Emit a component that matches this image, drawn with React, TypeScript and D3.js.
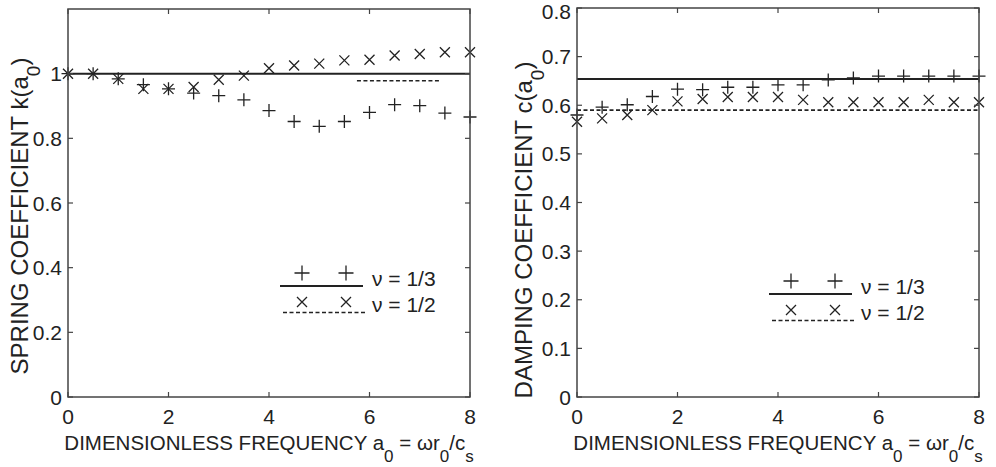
import React from "react";
import * as d3 from "d3";

// ---------- data ----------
const FREQ = [0, 0.5, 1, 1.5, 2, 2.5, 3, 3.5, 4, 4.5, 5, 5.5, 6, 6.5, 7, 7.5, 8];
const K_NU13 = [1.0, 1.0, 0.984, 0.966, 0.953, 0.94, 0.932, 0.919, 0.886, 0.852, 0.837, 0.852, 0.88, 0.904, 0.901, 0.878, 0.866];
const K_NU12 = [1.0, 1.0, 0.984, 0.953, 0.953, 0.959, 0.981, 0.994, 1.017, 1.025, 1.031, 1.041, 1.043, 1.056, 1.061, 1.066, 1.066];
const C_NU13 = [0.58, 0.596, 0.601, 0.618, 0.633, 0.632, 0.637, 0.637, 0.642, 0.642, 0.652, 0.656, 0.66, 0.66, 0.66, 0.66, 0.66];
const C_NU12 = [0.566, 0.573, 0.58, 0.59, 0.608, 0.613, 0.617, 0.617, 0.617, 0.611, 0.606, 0.606, 0.606, 0.606, 0.611, 0.606, 0.606];
// static (reference) values: [value, fromFreq, toFreq]
const K_STATIC_13 = [1.0, 0, 8];
const K_STATIC_12 = [0.978, 5.75, 7.4];
const C_STATIC_13 = [0.654, 0, 8];
const C_STATIC_12 = [0.59, 0, 8];
const X_TICKS = [0, 2, 4, 6, 8];
const K_TICKS = [0, 0.2, 0.4, 0.6, 0.8, 1];
const C_TICKS = [0, 0.1, 0.2, 0.3, 0.4, 0.5, 0.6, 0.7, 0.8];
const LEGEND_LABELS = ["ν = 1/3", "ν = 1/2"];

const INK = "#222";
const AXIS = "#444";
const FONT = "'Liberation Sans', Arial, sans-serif";

function Plus({ x, y, r }: { x: number; y: number; r: number }) {
  return <path d={`M${x - r},${y}H${x + r}M${x},${y - r}V${y + r}`} stroke={INK} strokeWidth={1.3} fill="none" />;
}
function Cross({ x, y, r }: { x: number; y: number; r: number }) {
  return <path d={`M${x - r},${y - r}L${x + r},${y + r}M${x - r},${y + r}L${x + r},${y - r}`} stroke={INK} strokeWidth={1.3} fill="none" />;
}

type PanelProps = {
  x0: number; x1: number; y0: number; y1: number;
  yMax: number; yTicks: number[];
  s13: number[]; s12: number[];
  st13: number[]; st12: number[];
  yLabel: string; yLabelVar: string; yLabelX: number; yLabelY: number;
  legX: number; legY: number;
};

function Panel(p: PanelProps) {
  const x = d3.scaleLinear().domain([0, 8]).range([p.x0, p.x1]);
  const y = d3.scaleLinear().domain([0, p.yMax]).range([p.y0, p.y1]);
  const fmt = (v: number) => String(+v.toFixed(1));
  const tl = 5;
  const lx = p.legX, ly = p.legY;
  return (
    <g fontFamily={FONT} fill={INK}>
      {/* data markers */}
      {FREQ.map((f, i) => <Plus key={"p" + i} x={x(f)} y={y(p.s13[i])} r={6.5} />)}
      {FREQ.map((f, i) => <Cross key={"c" + i} x={x(f)} y={y(p.s12[i])} r={5} />)}
      {/* static lines */}
      <line x1={x(p.st13[1])} x2={x(p.st13[2])} y1={y(p.st13[0])} y2={y(p.st13[0])} stroke={INK} strokeWidth={2} />
      <line x1={x(p.st12[1])} x2={x(p.st12[2])} y1={y(p.st12[0])} y2={y(p.st12[0])} stroke={INK} strokeWidth={1.6} strokeDasharray="4,2.5" />
      {/* axes box */}
      <rect x={p.x0} y={p.y1} width={p.x1 - p.x0} height={p.y0 - p.y1} fill="none" stroke={AXIS} strokeWidth={1.5} />
      {X_TICKS.map((t) => (
        <g key={"xt" + t}>
          <line x1={x(t)} x2={x(t)} y1={p.y0} y2={p.y0 - tl} stroke={AXIS} strokeWidth={1.2} />
          <line x1={x(t)} x2={x(t)} y1={p.y1} y2={p.y1 + tl} stroke={AXIS} strokeWidth={1.2} />
          <text x={x(t)} y={p.y0 + 27} textAnchor="middle" fontSize={21}>{t}</text>
        </g>
      ))}
      {p.yTicks.map((t) => (
        <g key={"yt" + t}>
          <line x1={p.x0} x2={p.x0 + tl} y1={y(t)} y2={y(t)} stroke={AXIS} strokeWidth={1.2} />
          <line x1={p.x1} x2={p.x1 - tl} y1={y(t)} y2={y(t)} stroke={AXIS} strokeWidth={1.2} />
          <text x={p.x0 - 6} y={Math.max(y(t) + 7.5, 19)} textAnchor="end" fontSize={21}>{fmt(t)}</text>
        </g>
      ))}
      {/* x label */}
      <text x={(p.x0 + p.x1) / 2} y={p.y0 + 53} textAnchor="middle" fontSize={20.5}>
        DIMENSIONLESS FREQUENCY a<tspan fontSize={17} dy={12}>0</tspan>
        <tspan dy={-12}> = ωr</tspan><tspan fontSize={17} dy={12}>0</tspan>
        <tspan dy={-12}>/c</tspan><tspan fontSize={17} dy={12}>s</tspan>
      </text>
      {/* y label */}
      <text transform={`translate(${p.yLabelX},${p.yLabelY}) rotate(-90)`} textAnchor="middle" fontSize={24}>
        {p.yLabel} {p.yLabelVar}(a<tspan fontSize={19} dy={12}>0</tspan><tspan dy={-12}>)</tspan>
      </text>
      {/* legend */}
      <Plus x={lx + 22} y={ly} r={7.5} />
      <Plus x={lx + 66} y={ly} r={7.5} />
      <line x1={lx} x2={lx + 83} y1={ly + 13} y2={ly + 13} stroke={INK} strokeWidth={2} />
      <text x={lx + 92} y={ly + 13} fontSize={21}>{LEGEND_LABELS[0]}</text>
      <Cross x={lx + 22} y={ly + 29} r={5} />
      <Cross x={lx + 66} y={ly + 29} r={5} />
      <line x1={lx + 3} x2={lx + 86} y1={ly + 39.5} y2={ly + 39.5} stroke={INK} strokeWidth={1.6} strokeDasharray="4,2.5" />
      <text x={lx + 92} y={ly + 39} fontSize={21}>{LEGEND_LABELS[1]}</text>
    </g>
  );
}

export default function App() {
  return (
    <svg width={996} height={467} style={{ position: "absolute", left: 0, top: 0, background: "#fff" }}>
      <rect width={996} height={467} fill="#fff" />
      <Panel x0={68} x1={470} y0={397} y1={9} yMax={1.2} yTicks={K_TICKS}
        s13={K_NU13} s12={K_NU12} st13={K_STATIC_13} st12={K_STATIC_12}
        yLabel="SPRING COEFFICIENT" yLabelVar="k" yLabelX={28} yLabelY={216}
        legX={280} legY={273} />
      <Panel x0={577} x1={979} y0={397} y1={8} yMax={0.8} yTicks={C_TICKS}
        s13={C_NU13} s12={C_NU12} st13={C_STATIC_13} st12={C_STATIC_12}
        yLabel="DAMPING COEFFICIENT" yLabelVar="c" yLabelX={532} yLabelY={230}
        legX={769} legY={281} />
    </svg>
  );
}
